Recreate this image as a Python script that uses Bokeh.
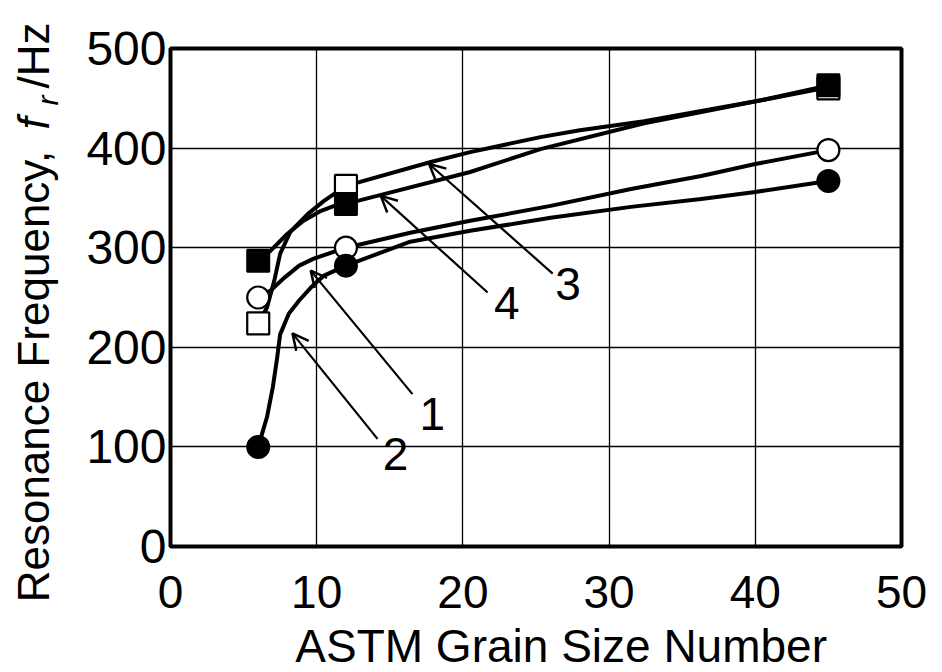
from bokeh.plotting import figure
from bokeh.models import Range1d, FixedTicker, Label, Arrow, OpenHead
from bokeh.layouts import row, column
from bokeh.embed import file_html
from bokeh.resources import INLINE

# ---- data ----
grain = [6, 12, 45]
closed_circle = [100, 282, 367]   # curve 2
open_circle = [250, 300, 398]     # curve 1
open_square = [224, 362, 460]     # curve 3
closed_square = [287, 344, 463]   # curve 4

# hand-drawn curves
c1_x = [6.0, 6.85, 7.8, 8.8, 9.8, 11.4, 12.0, 16.4, 20.5, 26.0, 31.5, 36.3, 40.0, 45.0]
c1_y = [250, 257, 270, 282, 289, 297, 300, 315, 327, 342, 359, 372, 384, 398]
c2_x = [6.0, 6.6, 7.0, 7.3, 7.5, 8.1, 8.8, 9.6, 10.5, 12.0, 16.4, 20.5, 26.0, 31.5, 36.3, 40.0, 45.0]
c2_y = [100, 130, 160, 190, 213, 234, 247, 260, 272, 282, 306, 317, 330, 341, 349, 356, 367]
c3_x = [6.0, 6.6, 7.1, 7.5, 8.2, 9.4, 10.5, 11.4, 12.0, 17.8, 20.5, 25.3, 28.0, 32.4, 40.4, 45.0]
c3_y = [224, 240, 267, 294, 316, 334, 347, 356, 362, 386, 396, 411, 418, 427, 448, 461]
c4_x = [6.0, 6.85, 8.0, 9.1, 10.3, 11.2, 12.0, 14.4, 20.5, 25.3, 32.4, 40.4, 45.0]
c4_y = [287, 297, 314, 327, 337, 342, 344, 353, 376, 399, 425, 448, 463]

x_ticks = [0, 10, 20, 30, 40, 50]
y_ticks = [0, 100, 200, 300, 400, 500]

curve_labels = ["1", "2", "3", "4"]
label_x = [17.9, 15.4, 27.2, 23.0]
label_y = [133, 93, 264, 244]
arrow_tail_x = [16.55, 14.16, 26.14, 21.69]
arrow_tail_y = [153, 108, 274, 255]
arrow_tip_x = [9.59, 8.34, 17.69, 14.38]
arrow_tip_y = [277, 214, 384, 352]

x_title = "ASTM Grain Size Number"
y_title_parts = ["Resonance Frequency,", "f", "r", "/Hz"]

FONT = "Liberation Sans"

# ---------------- main plot ----------------
p = figure(width=872, height=620, output_backend="svg", toolbar_location=None,
           x_range=Range1d(0, 50), y_range=Range1d(0, 500),
           min_border_left=100, min_border_right=41, min_border_top=48, min_border_bottom=74)

p.background_fill_color = "white"
p.border_fill_color = "white"
p.outline_line_color = "black"
p.outline_line_width = 4

for ax in (p.xaxis[0], p.yaxis[0]):
    ax.axis_line_color = None
    ax.major_tick_in = 0
    ax.major_tick_out = 0
    ax.minor_tick_line_color = None
    ax.major_label_text_font = FONT
    ax.major_label_text_color = "black"

p.xaxis[0].ticker = FixedTicker(ticks=x_ticks)
p.yaxis[0].ticker = FixedTicker(ticks=y_ticks)
p.xaxis[0].major_label_text_font_size = "46px"
p.yaxis[0].major_label_text_font_size = "48px"
p.xaxis[0].major_label_standoff = 29
p.yaxis[0].major_label_standoff = 4

p.xgrid[0].ticker = FixedTicker(ticks=x_ticks)
p.ygrid[0].ticker = FixedTicker(ticks=y_ticks)
for g in (p.xgrid[0], p.ygrid[0]):
    g.grid_line_color = "black"
    g.grid_line_width = 1.3
    g.grid_line_alpha = 1.0

# curves
for cx, cy in ((c1_x, c1_y), (c2_x, c2_y), (c3_x, c3_y), (c4_x, c4_y)):
    p.line(cx, cy, line_color="black", line_width=4, line_join="round", line_cap="round")

# markers
p.scatter(grain, open_circle, marker="circle", size=22, fill_color="white", line_color="black", line_width=2.2)
p.scatter(grain, closed_circle, marker="circle", size=22, fill_color="black", line_color="black", line_width=2)
p.scatter(grain, open_square, marker="square", size=22, fill_color="white", line_color="black", line_width=2.2)
p.scatter(grain, closed_square, marker="square", size=22, fill_color="black", line_color="black", line_width=2)

# arrows and curve numbers
for i in range(4):
    p.add_layout(Arrow(end=OpenHead(size=16, line_width=2.5, line_color="black"),
                       x_start=arrow_tail_x[i], y_start=arrow_tail_y[i],
                       x_end=arrow_tip_x[i], y_end=arrow_tip_y[i],
                       line_width=2.2, line_color="black"))
    p.add_layout(Label(x=label_x[i], y=label_y[i], text=curve_labels[i],
                       text_font=FONT, text_font_size="46px", text_color="black",
                       text_align="center", text_baseline="middle"))

# ---------------- y-axis title panel ----------------
py = figure(width=70, height=672, output_backend="svg", toolbar_location=None,
            x_range=Range1d(0, 70), y_range=Range1d(0, 672),
            x_axis_type=None, y_axis_type=None,
            min_border=0, min_border_left=0, min_border_right=0, min_border_top=0, min_border_bottom=0)
py.outline_line_color = None
py.background_fill_color = "white"
py.border_fill_color = "white"
ang = 1.5707963
yt_x = [33, 33, 47, 33]
yt_y = [296, 549, 572, 617]
yt_style = ["normal", "italic", "italic", "normal"]
yt_size = ["44px", "44px", "30px", "44px"]
for t, xx, yy, st, sz in zip(y_title_parts, yt_x, yt_y, yt_style, yt_size):
    py.add_layout(Label(x=xx, y=yy, text=t, text_font=FONT, text_font_style=st, text_font_size=sz,
                        angle=ang, text_align="center", text_baseline="middle", text_color="black"))

# ---------------- x-axis title panel ----------------
px = figure(width=872, height=52, output_backend="svg", toolbar_location=None,
            x_range=Range1d(0, 872), y_range=Range1d(0, 52),
            x_axis_type=None, y_axis_type=None,
            min_border=0, min_border_left=0, min_border_right=0, min_border_top=0, min_border_bottom=0)
px.outline_line_color = None
px.background_fill_color = "white"
px.border_fill_color = "white"
px.add_layout(Label(x=466, y=27, text=x_title, text_font=FONT, text_font_size="46px",
                    text_align="center", text_baseline="middle", text_color="black"))

layout = row(py, column(p, px, spacing=0), spacing=0)

open("out.html", "w").write(file_html(layout, INLINE))
